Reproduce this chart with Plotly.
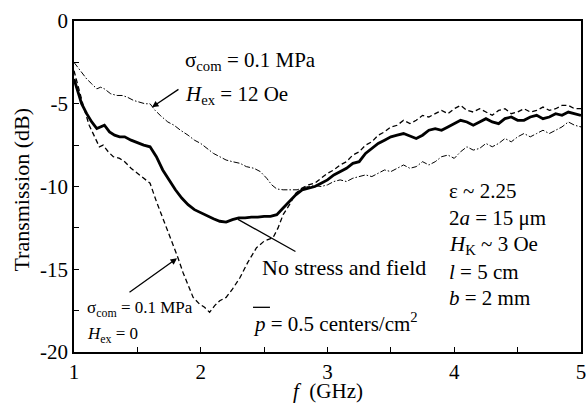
import plotly.graph_objects as go

# ---- data ----
f_nostress = [1.00,1.03,1.06,1.10,1.14,1.18,1.21,1.24,1.28,1.32,1.36,1.40,1.45,1.50,1.55,1.60,1.65,1.70,1.75,1.80,
              1.85,1.90,1.95,2.00,2.05,2.10,2.15,2.20,2.25,2.30,2.35,2.40,2.45,2.50,2.55,2.60,2.65,2.70,2.75,2.80,
              2.85,2.90,2.95,3.00,3.05,3.10,3.15,3.20,3.25,3.30,3.35,3.40,3.45,3.50,3.55,3.60,3.65,3.70,3.75,3.80,
              3.85,3.90,3.95,4.00,4.05,4.10,4.15,4.20,4.25,4.30,4.35,4.40,4.45,4.50,4.55,4.60,4.65,4.70,4.75,4.80,
              4.85,4.90,4.95,5.00]
t_nostress = [-3.5,-4.3,-5.0,-5.6,-6.1,-6.5,-6.4,-6.3,-6.7,-6.9,-7.0,-7.0,-7.2,-7.35,-7.5,-7.6,-8.2,-9.0,-9.6,-10.2,
              -10.7,-11.1,-11.4,-11.6,-11.8,-11.95,-12.1,-12.15,-12.0,-11.9,-11.9,-11.85,-11.85,-11.8,-11.8,-11.7,-11.3,-10.9,-10.5,-10.2,
              -10.1,-10.0,-9.8,-9.6,-9.3,-9.1,-8.9,-8.6,-8.5,-8.0,-7.7,-7.4,-7.2,-7.0,-6.9,-6.8,-6.95,-7.1,-6.9,-6.6,
              -6.5,-6.6,-6.4,-6.2,-6.0,-6.1,-6.3,-6.1,-5.9,-6.1,-6.2,-5.9,-5.8,-6.0,-6.0,-5.8,-5.7,-5.9,-5.8,-5.6,
              -5.7,-5.5,-5.6,-5.7]

f_h0 = [1.00,1.04,1.08,1.12,1.16,1.20,1.23,1.27,1.31,1.36,1.40,1.45,1.50,1.55,1.60,1.65,1.70,1.75,1.80,1.82,
        1.86,1.90,1.94,1.99,2.03,2.07,2.11,2.15,2.20,2.25,2.31,2.37,2.44,2.50,2.57,2.61,2.65,2.70,2.75,2.80,
        2.85,2.90,2.95,3.00,3.05,3.10,3.15,3.20,3.25,3.30,3.35,3.40,3.45,3.50,3.55,3.60,3.65,3.70,3.75,3.80,
        3.85,3.90,3.95,4.00,4.05,4.10,4.15,4.20,4.25,4.30,4.35,4.40,4.45,4.50,4.55,4.60,4.65,4.70,4.75,4.80,
        4.85,4.90,4.95,5.00]
t_h0 = [-3.0,-4.2,-5.3,-6.3,-7.0,-7.6,-7.5,-7.9,-8.2,-8.3,-8.5,-8.9,-9.2,-9.5,-9.8,-10.9,-11.9,-12.8,-13.8,-14.3,
        -15.2,-16.0,-16.7,-17.1,-17.3,-17.6,-17.2,-16.9,-16.7,-16.2,-15.5,-14.6,-13.7,-13.3,-13.1,-12.5,-11.7,-11.1,-10.4,-10.1,
        -9.9,-9.8,-9.5,-9.2,-9.0,-8.7,-8.5,-8.1,-7.9,-7.5,-7.3,-6.9,-6.7,-6.4,-6.3,-6.0,-6.2,-6.0,-5.7,-5.8,
        -5.6,-5.4,-5.6,-5.3,-5.1,-5.4,-5.5,-5.3,-5.5,-5.7,-5.4,-5.3,-5.6,-5.5,-5.3,-5.5,-5.4,-5.2,-5.4,-5.3,
        -5.1,-5.1,-5.3,-5.3]

f_h12 = [1.00,1.04,1.07,1.10,1.14,1.18,1.21,1.24,1.29,1.34,1.38,1.42,1.47,1.52,1.56,1.60,1.64,1.68,1.74,1.79,
         1.84,1.90,1.95,2.00,2.05,2.10,2.15,2.20,2.25,2.31,2.36,2.42,2.47,2.52,2.56,2.60,2.65,2.70,2.76,2.80,
         2.85,2.90,2.95,3.00,3.05,3.10,3.15,3.20,3.25,3.30,3.35,3.40,3.45,3.50,3.55,3.60,3.65,3.70,3.75,3.80,
         3.85,3.90,3.95,4.00,4.05,4.10,4.15,4.20,4.25,4.30,4.35,4.40,4.45,4.50,4.55,4.60,4.65,4.70,4.75,4.80,
         4.85,4.90,4.95,5.00]
t_h12 = [-2.5,-2.9,-3.2,-3.5,-3.8,-4.1,-4.0,-4.1,-4.4,-4.5,-4.5,-4.6,-4.8,-4.9,-5.0,-5.0,-5.4,-5.7,-6.1,-6.3,
         -6.6,-6.9,-7.2,-7.4,-7.7,-8.0,-8.2,-8.4,-8.5,-8.6,-8.8,-8.9,-9.1,-9.5,-9.9,-10.15,-10.2,-10.2,-10.2,-10.1,
         -10.0,-9.95,-10.0,-9.9,-9.7,-9.6,-9.7,-9.5,-9.4,-9.3,-9.4,-9.2,-9.0,-9.1,-8.9,-8.7,-8.9,-8.8,-8.5,-8.7,
         -8.5,-8.2,-8.1,-8.3,-7.9,-7.6,-7.8,-7.7,-7.4,-7.6,-7.4,-7.1,-7.3,-7.0,-6.8,-7.0,-6.8,-6.6,-6.8,-6.6,
         -6.4,-6.1,-6.3,-6.4]

x_ticks = [1, 2, 3, 4, 5]
x_ticklabels = ["1", "2", "3", "4", "5"]
y_ticks = [0, -5, -10, -15, -20]
y_ticklabels = ["0", "-5", "-10", "-15", "-20"]

FONT = "Times New Roman"

fig = go.Figure()
fig.add_trace(go.Scatter(x=f_h12, y=t_h12, mode="lines",
                         line=dict(color="black", width=1, dash="6px,2px,1.5px,2px")))
fig.add_trace(go.Scatter(x=f_h0, y=t_h0, mode="lines",
                         line=dict(color="black", width=1.3, dash="5px,3px")))
fig.add_trace(go.Scatter(x=f_nostress, y=t_nostress, mode="lines",
                         line=dict(color="black", width=2.8)))

def txt(x, y, s, size=21, fam=FONT):
    fig.add_annotation(x=x, y=y, xref="x", yref="y", text=s, showarrow=False,
                       xanchor="left", yanchor="middle", font=dict(family=fam, size=size, color="black"))

def arrow(x, y, ax, ay, head=2):
    fig.add_annotation(x=x, y=y, ax=ax, ay=ay, xref="x", yref="y", axref="x", ayref="y",
                       text="", showarrow=True, arrowhead=head, arrowsize=1, arrowwidth=1.3,
                       arrowcolor="black")

txt(1.86, -2.4, "σ<sub>com</sub> = 0.1 MPa")
txt(1.86, -4.5, "<i>H</i><sub>ex</sub> = 12 Oe")
arrow(1.615, -5.21, 1.836, -4.07)

txt(2.467, -14.88, "No stress and field", size=22)
arrow(2.294, -11.99, 2.759, -13.98, head=0)

txt(1.087, -17.4, "σ<sub>com</sub> = 0.1 MPa", size=17)
txt(1.087, -19.0, "<i>H</i><sub>ex</sub> = 0", size=17)
arrow(1.813, -14.34, 1.426, -16.45)

txt(2.40, -18.2, "<i>p</i> = 0.5 centers/cm<sup>2</sup>")
fig.add_shape(type="line", xref="x", yref="y", x0=2.412, x1=2.546, y0=-17.3, y1=-17.3,
              line=dict(color="black", width=1.3))

txt(3.943, -10.29, "ε ~ 2.25")
txt(3.943, -11.93, "2<i>a</i> = 15 μm")
txt(3.943, -13.55, "<i>H</i><sub>K</sub> ~ 3 Oe")
txt(3.943, -15.18, "<i>l</i> = 5 cm")
txt(3.943, -16.76, "<i>b</i> = 2 mm")

# axis titles
fig.add_annotation(x=0.5, y=-0.117, xref="paper", yref="paper", text="<i>f</i>  (GHz)", showarrow=False,
                   xanchor="center", yanchor="middle", font=dict(family=FONT, size=21, color="black"))
fig.add_annotation(x=-0.103, y=0.49, xref="paper", yref="paper", text="Transmission (dB)", showarrow=False,
                   textangle=-90, xanchor="center", yanchor="middle", font=dict(family=FONT, size=22, color="black"))

axis_common = dict(showline=True, linecolor="black", linewidth=1.5, mirror=True,
                   ticks="inside", ticklen=5, tickwidth=1.3, tickcolor="black",
                   showgrid=False, zeroline=False, automargin=False, ticklabeloverflow="allow",
                   tickfont=dict(family=FONT, size=21, color="black"))

fig.update_xaxes(range=[1, 5], tickmode="array", tickvals=x_ticks, ticktext=x_ticklabels,
                 minor=dict(ticks="inside", tick0=1, dtick=0.5, ticklen=5, tickwidth=1.3, tickcolor="black"),
                 **axis_common)
fig.update_yaxes(range=[-20, 0], tickmode="array", tickvals=y_ticks, ticktext=y_ticklabels,
                 minor=dict(ticks="inside", tick0=0, dtick=2.5, ticklen=5, tickwidth=1.3, tickcolor="black"),
                 **axis_common)

fig.update_layout(width=586, height=403, margin=dict(l=74, r=5, t=21, b=51),
                  font=dict(family=FONT),
                  plot_bgcolor="white", paper_bgcolor="white", showlegend=False)

fig.write_html("out.html", config={"displayModeBar": False},
               post_script="document.body.style.margin='0';document.body.style.overflow='hidden';")
